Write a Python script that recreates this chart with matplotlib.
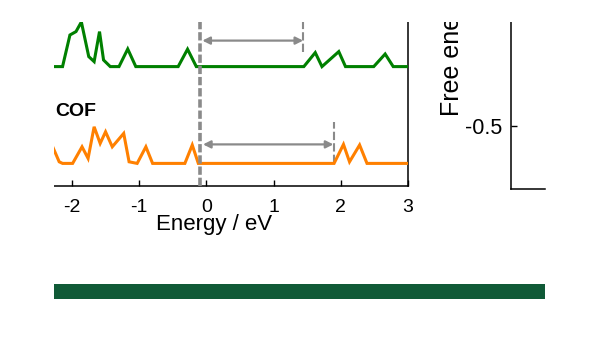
import matplotlib
matplotlib.use("Agg")
import matplotlib.pyplot as plt
from matplotlib.patches import Rectangle

plt.rcParams['font.family'] = ['Liberation Sans', 'DejaVu Sans']
plt.rcParams['axes.unicode_minus'] = False

# ---- data ----
green_E = [-2.28, -2.14, -2.03, -1.94, -1.86, -1.75, -1.67, -1.59, -1.53, -1.43, -1.30,
           -1.17, -1.05, -0.42, -0.28, -0.15, 1.45, 1.62, 1.72, 1.97, 2.07, 2.49, 2.66,
           2.78, 3.0]
green_dos = [0, 0, 1.58, 1.75, 2.23, 0.5, 0.25, 1.75, 0.33, 0, 0,
             0.88, 0, 0, 0.87, 0, 0, 0.7, 0, 0.75, 0, 0, 0.63,
             0, 0]
orange_E = [-2.28, -2.19, -2.14, -1.99, -1.85, -1.76, -1.67, -1.58, -1.50, -1.40, -1.23,
            -1.15, -1.03, -0.90, -0.80, -0.32, -0.21, -0.12, 1.90, 2.04, 2.13, 2.28,
            2.39, 3.0]
orange_dos = [0.78, 0.08, 0, 0, 0.83, 0.25, 1.83, 1.0, 1.58, 0.83, 1.5,
              0.08, 0, 0.83, 0, 0, 0.92, 0, 0, 0.95, 0.08, 0.92,
              0, 0]
green_offset = 5.97
orange_offset = 1.13
fermi_level = -0.10
green_cbm = 1.44
orange_cbm = 1.90
green_arrow_y = 7.27
orange_arrow_y = 2.08
xticks = [-2, -1, 0, 1, 2, 3]
right_yticks = [-0.5]

GREEN = '#008000'
ORANGE = '#FF8000'
GRAY = '#8a8a8a'

W, H = 600, 338
fig = plt.figure(figsize=(6.0, 3.38), dpi=100)

def fx(px):
    return px / W

def fy(py):
    return 1 - py / H

# ---- left DOS panel (its left part is cropped away in the source) ----
ax = fig.add_axes([fx(20), fy(186), fx(408) - fx(20), fy(22) - fy(186)])
ax.set_xlim(-2.773, 3.0)
ax.set_ylim(0, 8.2)
ax.plot(green_E, [green_offset + v for v in green_dos], color=GREEN, lw=2.2,
        solid_joinstyle='miter', zorder=3)
ax.plot(orange_E, [orange_offset + v for v in orange_dos], color=ORANGE, lw=2.2,
        solid_joinstyle='miter', zorder=3)

ax.axvline(fermi_level, color=GRAY, lw=2.6, dashes=(2.3, 0.8), zorder=4)
ax.plot([green_cbm, green_cbm], [6.7, 8.2], color=GRAY, lw=1.5, dashes=(4.0, 1.5), zorder=2)
ax.plot([orange_cbm, orange_cbm], [orange_offset, 3.2], color=GRAY, lw=1.5,
        dashes=(4.0, 1.5), zorder=2)
for x0, x1, y in [(fermi_level + 0.04, green_cbm, green_arrow_y),
                  (fermi_level + 0.05, orange_cbm - 0.01, orange_arrow_y)]:
    ax.annotate('', xy=(x1, y), xytext=(x0, y),
                arrowprops=dict(arrowstyle='<|-|>', color=GRAY, lw=1.6,
                                mutation_scale=11, shrinkA=0, shrinkB=0))

ax.set_xticks(xticks)
ax.set_xticklabels([str(t) for t in xticks])
ax.set_yticks([])
ax.tick_params(axis='x', direction='in', length=4, width=1, labelsize=14, pad=9)
for s in ['left', 'top']:
    ax.spines[s].set_visible(False)
for s in ['bottom', 'right']:
    ax.spines[s].set_linewidth(1.1)
ax.set_xlabel('Energy / eV', fontsize=16, labelpad=-1)

# ---- right (cropped) free-energy panel ----
ax2 = fig.add_axes([fx(510.7), fy(189.3), fx(545) - fx(510.7), fy(22) - fy(189.3)])
ax2.set_ylim(-0.753, -0.084)
ax2.set_xlim(0, 1)
ax2.set_yticks(right_yticks)
ax2.set_yticklabels(['-0.5'])
ax2.set_xticks([])
ax2.tick_params(axis='y', direction='in', length=4, width=1, labelsize=15.5, pad=6)
for s in ['right', 'top']:
    ax2.spines[s].set_visible(False)
for s in ['bottom', 'left']:
    ax2.spines[s].set_linewidth(1.1)

fig.text(fx(451.7), fy(116), 'Free energy / eV', rotation=90, ha='center', va='bottom',
         fontsize=18)

# ---- crop masks (top and left), label, and bottom green bar ----
fig.add_artist(Rectangle((0, fy(22)), 1, 1 - fy(22), transform=fig.transFigure,
                         facecolor='white', edgecolor='none', zorder=10))
fig.add_artist(Rectangle((0, 0), fx(54), 1, transform=fig.transFigure,
                         facecolor='white', edgecolor='none', zorder=10))
fig.text(fx(55), fy(112), 'COF', fontsize=14, fontweight='bold', ha='left',
         va='center', zorder=11)
fig.add_artist(Rectangle((fx(54), fy(299)), fx(545) - fx(54), fy(284) - fy(299),
                         transform=fig.transFigure, facecolor='#105A37',
                         edgecolor='none', zorder=11))

fig.savefig('out.png', dpi=100)
